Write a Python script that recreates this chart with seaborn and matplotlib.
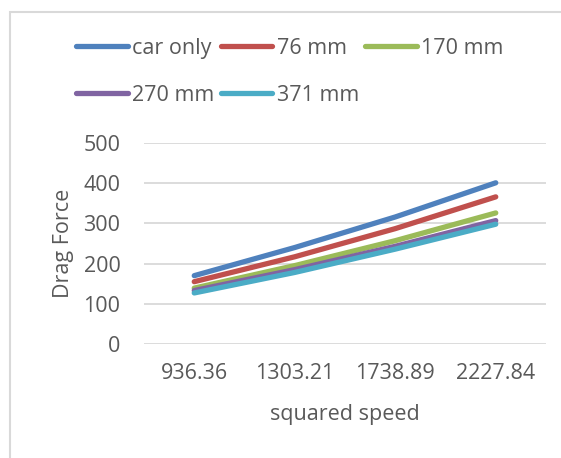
import matplotlib
matplotlib.use("Agg")
import matplotlib.pyplot as plt
import seaborn as sns
import pandas as pd
from matplotlib.patches import Rectangle

# ---- data ----
squared_speed = ["936.36", "1303.21", "1738.89", "2227.84"]
series_names = ["car only", "76 mm", "170 mm", "270 mm", "371 mm"]
car_only = [170, 240, 316, 401]
mm76 = [155, 217, 287, 366]
mm170 = [139, 195, 257, 326]
mm270 = [133, 185, 243, 307]
mm371 = [127, 178, 236, 298]
colors = ["#4F81BD", "#C0504D", "#9BBB59", "#8064A2", "#4BACC6"]

values = [car_only, mm76, mm170, mm270, mm371]
rows = []
for name, vals in zip(series_names, values):
    for x, v in zip(squared_speed, vals):
        rows.append({"squared speed": x, "Drag Force": v, "series": name})
df = pd.DataFrame(rows)

sns.set_style("white")
plt.rcParams["font.family"] = ["Open Sans", "DejaVu Sans"]
text_color = "#595959"
fs = 15.5

W, H = 561, 458
fig = plt.figure(figsize=(W / 100, H / 100), dpi=100)
ax = fig.add_axes([144 / W, (H - 344) / H, (546 - 144) / W, (344 - 143) / H])

sns.lineplot(data=df, x="squared speed", y="Drag Force", hue="series",
             hue_order=series_names, palette=colors, sort=False,
             linewidth=3.8, ax=ax, legend=True)
for ln in ax.get_lines():
    ln.set_solid_capstyle("round")

ax.set_ylim(0, 500)
ax.set_xlim(-0.5, 3.5)
ax.set_yticks([0, 100, 200, 300, 400, 500])
ax.grid(axis="y", color="#d9d9d9", linewidth=1.3)
ax.set_axisbelow(True)
for s in ax.spines.values():
    s.set_visible(False)
ax.tick_params(axis="both", length=0, labelsize=fs, colors=text_color)
ax.tick_params(axis="y", pad=17)
ax.tick_params(axis="x", pad=14)

ax.set_xlabel("squared speed", fontsize=fs, color=text_color)
ax.set_ylabel("Drag Force", fontsize=fs, color=text_color)
ax.xaxis.set_label_coords(0.5, -0.353)
ax.xaxis.label.set_va("center")
ax.yaxis.set_label_coords((63 - 144) / 402, 0.5)
ax.yaxis.label.set_va("center")

handles, labels = ax.get_legend_handles_labels()
hmap = dict(zip(labels, handles))
order = ["car only", "270 mm", "76 mm", "371 mm", "170 mm"]
leg = ax.legend([hmap[k] for k in order], order, ncol=3, frameon=False,
                fontsize=fs, loc="upper left",
                bbox_to_anchor=(76 / W, 1 - 38 / H),
                bbox_transform=fig.transFigure, borderpad=0, borderaxespad=0,
                handlelength=2.4, handletextpad=0.2, columnspacing=0.3,
                labelspacing=1.19)
for t in leg.get_texts():
    t.set_color(text_color)
for h in leg.legend_handles:
    h.set_linewidth(3.8)
    h.set_solid_capstyle("round")

fig.patches.append(Rectangle((10 / W, -0.1), 1.2, 1 - 12 / H + 0.1,
                             transform=fig.transFigure, fill=False,
                             edgecolor="#d9d9d9", linewidth=1.5))

fig.savefig("out.png", dpi=100)
